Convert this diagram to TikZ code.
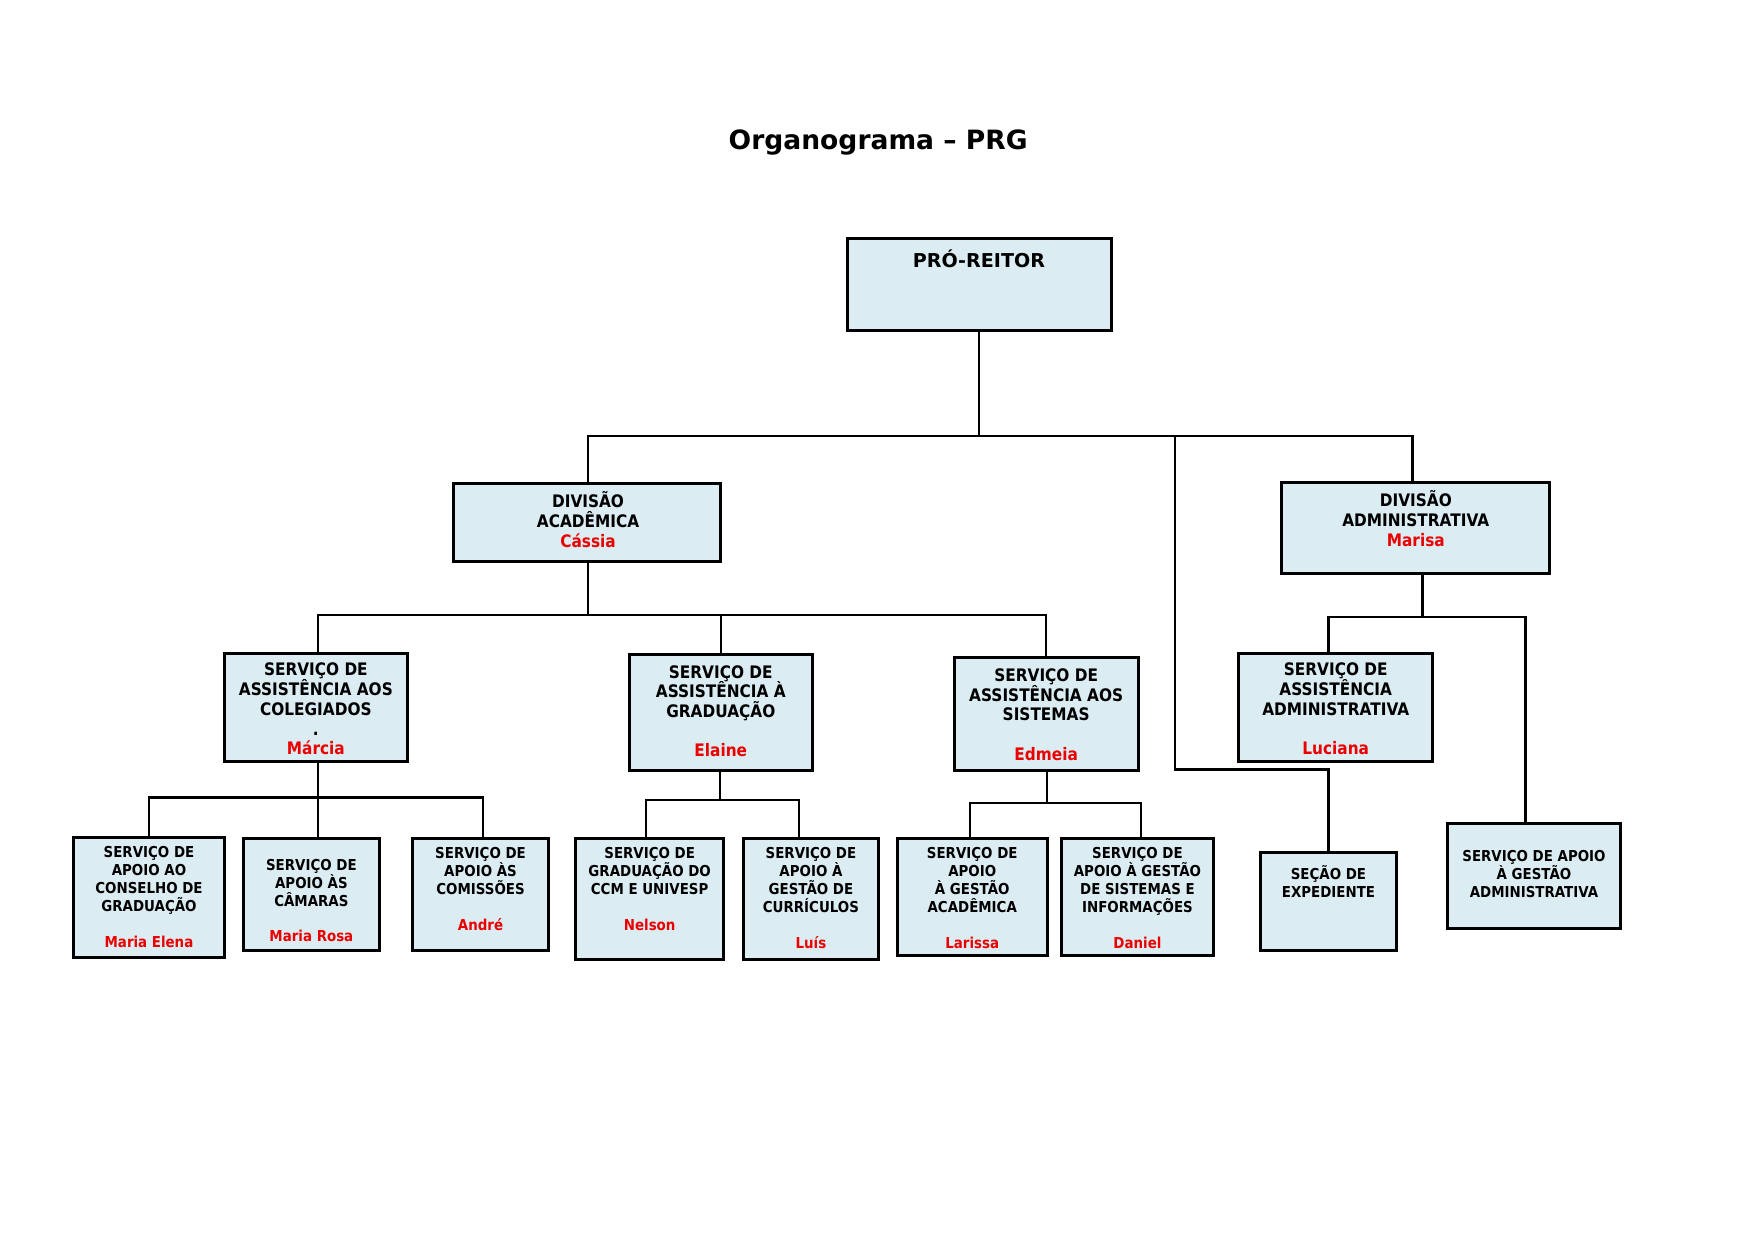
\documentclass[tikz,border=0pt]{standalone}
\usepackage{fontspec}
\usepackage{xcolor}
\usetikzlibrary{fit}
\setmainfont{DejaVu Sans}
\newfontfamily\wfont{DejaVu Sans}[FakeStretch=0.89]
\definecolor{azulclaro}{RGB}{219,236,242}
\definecolor{nome}{RGB}{235,0,0}

\begin{document}
\begin{tikzpicture}[x=0.018966cm, y=-0.018966cm,
    bloco/.style={draw, fill=azulclaro, line width=1.45pt, inner sep=0pt},
    liga/.style={line width=1.05pt},
    txt/.style={align=center, inner sep=0pt},
    titulo/.style={txt, font=\bfseries\fontsize{12.8}{15}\selectfont},
    rtxt/.style={txt, font=\bfseries\fontsize{9.2}{11}\selectfont},
    dtxt/.style={txt, font=\wfont\bfseries\fontsize{8.3}{9.5}\selectfont},
    btxt/.style={txt, font=\wfont\bfseries\fontsize{7.25}{8.65}\selectfont}]
  \useasboundingbox (0cm,0cm) rectangle (29.7cm,-21cm);

  % caixas
  \node[bloco, fit={(757,213) (992,295)}] (reitor) {};
  \node[bloco, fit={(405,432) (643,501)}] (dacad) {};
  \node[bloco, fit={(1144,431) (1383,512)}] (dadm) {};
  \node[bloco, fit={(200,583) (364,680)}] (scol) {};
  \node[bloco, fit={(562,584) (725,688)}] (sgrad) {};
  \node[bloco, fit={(852,587) (1016,688)}] (ssis) {};
  \node[bloco, fit={(1106,583) (1279,680)}] (sadm) {};
  \node[bloco, fit={(66,748) (200,855)}] (conselho) {};
  \node[bloco, fit={(217,749) (339,849)}] (camaras) {};
  \node[bloco, fit={(368,749) (490,849)}] (comissoes) {};
  \node[bloco, fit={(514,749) (646,857)}] (ccm) {};
  \node[bloco, fit={(664,749) (784,857)}] (curriculos) {};
  \node[bloco, fit={(801,749) (935,853)}] (gacad) {};
  \node[bloco, fit={(948,749) (1083,853)}] (gsis) {};
  \node[bloco, fit={(1125,761) (1247,849)}] (expediente) {};
  \node[bloco, fit={(1292,735) (1447,829)}] (gadm) {};

  % ligacoes
  \coordinate (jr) at (874,389);
  \coordinate (jx) at (1049,389);
  \coordinate (jy) at (1049,687);
  \draw[liga] (reitor.south -| jr) -- (jr);
  \draw[liga] (dacad.north -| 525,0) |- (jr) -| (dadm.north -| 1261,0);
  \draw[liga] (jx) -- (jy) -| (expediente.north);

  \coordinate (ja) at (525,549);
  \draw[liga] (dacad.south -| ja) -- (ja);
  \draw[liga] (scol.north -| 284,0) |- (ja) -| (ssis.north);
  \draw[liga] (sgrad.north) -- (sgrad.north |- ja);

  \coordinate (jd) at (1270,551);
  \draw[liga] (dadm.south -| jd) -- (jd);
  \draw[liga] (sadm.north -| 1186,0) |- (jd) -| (gadm.north -| 1362,0);

  \coordinate (jc) at (284,712);
  \draw[liga] (scol.south -| jc) -- (jc);
  \draw[liga] (conselho.north) |- (jc) -| (comissoes.north -| 431,0);
  \draw[liga] (camaras.north -| jc) -- (jc);

  \coordinate (jg) at (643,714);
  \draw[liga] (sgrad.south -| jg) -- (jg);
  \draw[liga] (ccm.north -| 577,0) |- (jg) -| (curriculos.north -| 713,0);

  \coordinate (js) at (935,717);
  \draw[liga] (ssis.south -| js) -- (js);
  \draw[liga] (gacad.north -| 866,0) |- (js) -| (gsis.north -| 1019,0);

  % textos
  \node[titulo] (tit) at (784,127) {Organograma – PRG};
  \node[rtxt] (reitorT) at (874,231) {PRÓ-REITOR};
  \node[dtxt] (dacadT) at (525,464) {DIVISÃO\\ACADÊMICA\\\textcolor{nome}{Cássia}};
  \node[dtxt] (dadmT) at (1264,463) {DIVISÃO\\ADMINISTRATIVA\\\textcolor{nome}{Marisa}};
  \node[dtxt] (scolT) at (282,633) {SERVIÇO DE\\ASSISTÊNCIA AOS\\COLEGIADOS\\.\\\textcolor{nome}{Márcia}};
  \node[dtxt] (sgradT) at (643.5,635) {SERVIÇO DE\\ASSISTÊNCIA À\\GRADUAÇÃO\\[9.5pt]\textcolor{nome}{Elaine}};
  \node[dtxt] (ssisT) at (934,638) {SERVIÇO DE\\ASSISTÊNCIA AOS\\SISTEMAS\\[9.5pt]\textcolor{nome}{Edmeia}};
  \node[dtxt] (sadmT) at (1192.5,633) {SERVIÇO DE\\ASSISTÊNCIA\\ADMINISTRATIVA\\[9.5pt]\textcolor{nome}{Luciana}};
  \node[btxt] (conselhoT) at (133,801) {SERVIÇO DE\\APOIO AO\\CONSELHO DE\\GRADUAÇÃO\\[8.65pt]\textcolor{nome}{Maria Elena}};
  \node[btxt] (camarasT) at (278,804) {SERVIÇO DE\\APOIO ÀS\\CÂMARAS\\[8.65pt]\textcolor{nome}{Maria Rosa}};
  \node[btxt] (comissoesT) at (429,794) {SERVIÇO DE\\APOIO ÀS\\COMISSÕES\\[8.65pt]\textcolor{nome}{André}};
  \node[btxt] (ccmT) at (580,794) {SERVIÇO DE\\GRADUAÇÃO DO\\CCM E UNIVESP\\[8.65pt]\textcolor{nome}{Nelson}};
  \node[btxt] (curriculosT) at (724,802) {SERVIÇO DE\\APOIO À\\GESTÃO DE\\CURRÍCULOS\\[8.65pt]\textcolor{nome}{Luís}};
  \node[btxt] (gacadT) at (868,802) {SERVIÇO DE\\APOIO\\À GESTÃO\\ACADÊMICA\\[8.65pt]\textcolor{nome}{Larissa}};
  \node[btxt] (gsisT) at (1015.5,802) {SERVIÇO DE\\APOIO À GESTÃO\\DE SISTEMAS E\\INFORMAÇÕES\\[8.65pt]\textcolor{nome}{Daniel}};
  \node[btxt] (expedienteT) at (1186,787) {SEÇÃO DE\\EXPEDIENTE};
  \node[btxt] (gadmT) at (1369.5,780) {SERVIÇO DE APOIO\\À GESTÃO\\ADMINISTRATIVA};
\end{tikzpicture}
\end{document}
